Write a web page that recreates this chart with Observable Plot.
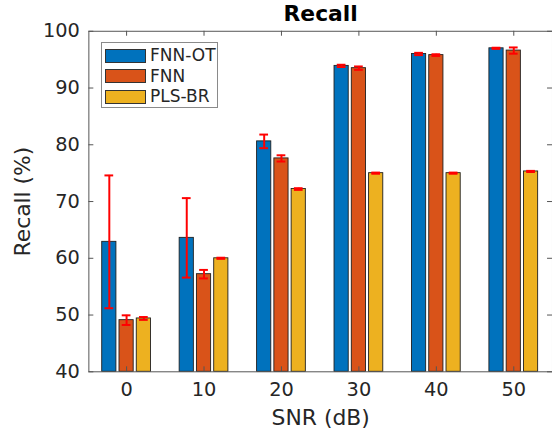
<!DOCTYPE html>
<html>
<head>
<meta charset="utf-8">
<script src="https://cdn.jsdelivr.net/npm/d3@7"></script>
<script src="https://cdn.jsdelivr.net/npm/@observablehq/plot@0.6"></script>
<style>
  html, body { margin: 0; padding: 0; overflow: hidden; background: #fff; }
  #wrap { position: relative; width: 552px; height: 437px; overflow: hidden; font-family: "DejaVu Sans", sans-serif; }
  #legend { position: absolute; left: 101px; top: 42px; width: 117px; height: 66px; border: 1px solid #8a8a8a; background: #fff; box-sizing: border-box; }
  .row { position: absolute; left: 3px; height: 15px; display: flex; align-items: center; }
  .sw { width: 41px; height: 14px; border: 1px solid #333; box-sizing: border-box; }
  .lab { margin-left: 4px; font-size: 17px; color: #262626; line-height: 15px; }
</style>
</head>
<body>
<div id="wrap"></div>
<script>
const categories = ["0", "10", "20", "30", "40", "50"];
const series = ["FNN-OT", "FNN", "PLS-BR"];
const colors = ["#0072BD", "#D95319", "#EDB120"];
const fnnOt    = [62.9, 63.6, 80.6, 93.9, 96.0, 97.0];
const fnnOtErr = [11.7, 7.0, 1.2, 0.2, 0.2, 0.1];
const fnn      = [49.1, 57.2, 77.6, 93.5, 95.8, 96.6];
const fnnErr   = [0.85, 0.75, 0.55, 0.3, 0.15, 0.55];
const plsbr    = [49.4, 60.0, 72.2, 75.0, 75.0, 75.3];
const plsbrErr = [0.25, 0.1, 0.15, 0.1, 0.1, 0.1];
const yTicks = [40, 50, 60, 70, 80, 90, 100];
const yDomain = [40, 100];

const values = [fnnOt, fnn, plsbr];
const errs = [fnnOtErr, fnnErr, plsbrErr];

const W = 556, H = 437, mL = 89, mR = 0, mT = 31, mB = 63;
const xRange = [mL - 1.5, W + 0.7];
const step = (xRange[1] - xRange[0]) / categories.length;
const barW = 14.5, barGap = 17.4, capW = 9;
const barInset = (step - barW) / 2;
const capInset = (step - capW) / 2;

const marks = [];
series.forEach((s, i) => {
  const data = categories.map((c, j) => ({snr: c, v: values[i][j], base: yDomain[0]}));
  const dx = (i - 1) * barGap;
  marks.push(Plot.barY(data, {x: "snr", y1: "base", y2: "v", fill: colors[i], stroke: "#1f1f1f", strokeWidth: 0.9, insetLeft: barInset, insetRight: barInset, dx}));
});
series.forEach((s, i) => {
  const data = categories.map((c, j) => ({snr: c, lo: values[i][j] - errs[i][j], hi: values[i][j] + errs[i][j]}));
  const dx = (i - 1) * barGap;
  marks.push(Plot.ruleX(data, {x: "snr", y1: "lo", y2: "hi", stroke: "#ff0000", strokeWidth: 2, dx}));
  marks.push(Plot.tickY(data, {x: "snr", y: "lo", stroke: "#ff0000", strokeWidth: 2, insetLeft: capInset, insetRight: capInset, dx}));
  marks.push(Plot.tickY(data, {x: "snr", y: "hi", stroke: "#ff0000", strokeWidth: 2, insetLeft: capInset, insetRight: capInset, dx}));
});

const frameW = W - mL - mR, frameH = H - mT - mB;
// inward ticks
marks.push(Plot.tickY(yTicks, {y: d => d, insetRight: frameW - 5, stroke: "#555", strokeWidth: 1}));
marks.push(Plot.tickY(yTicks, {y: d => d, insetLeft: frameW - 5, stroke: "#555", strokeWidth: 1}));
marks.push(Plot.tickX(categories, {x: d => d, insetTop: frameH - 5, stroke: "#555", strokeWidth: 1}));
marks.push(Plot.tickX(categories, {x: d => d, insetBottom: frameH - 5, stroke: "#555", strokeWidth: 1}));
marks.push(Plot.frame({stroke: "#555", strokeWidth: 1}));

marks.push(Plot.axisY(yTicks, {tickSize: 0, tickPadding: 9, fontSize: 19.5, label: null, color: "#262626"}));
marks.push(Plot.axisX({tickSize: 0, tickPadding: 11, fontSize: 19.5, label: null, color: "#262626"}));
marks.push(Plot.text(["Recall (%)"], {frameAnchor: "left", rotate: -90, dx: -66, lineAnchor: "middle", textAnchor: "middle", fontSize: 22, fill: "#262626", text: d => d}));
marks.push(Plot.text(["SNR (dB)"], {frameAnchor: "bottom", dy: 47, lineAnchor: "middle", fontSize: 22, fill: "#262626", text: d => d}));
marks.push(Plot.text(["Recall"], {frameAnchor: "top", dy: -17, lineAnchor: "middle", fontSize: 22, fontWeight: "bold", fill: "#000", text: d => d}));

const chart = Plot.plot({
  width: W, height: H,
  marginLeft: mL, marginRight: mR, marginTop: mT, marginBottom: mB,
  style: {fontFamily: "DejaVu Sans, sans-serif", color: "#262626", background: "#fff", overflow: "visible"},
  x: {type: "band", domain: categories, padding: 0, range: xRange, label: null},
  y: {domain: yDomain, ticks: yTicks, label: null},
  marks
});
const wrap = document.getElementById("wrap");
wrap.appendChild(chart);

const legend = document.createElement("div");
legend.id = "legend";
series.forEach((s, i) => {
  const row = document.createElement("div");
  row.className = "row";
  row.style.top = (5 + i * 20.5) + "px";
  const sw = document.createElement("div");
  sw.className = "sw";
  sw.style.background = colors[i];
  const lab = document.createElement("span");
  lab.className = "lab";
  lab.textContent = s;
  row.appendChild(sw); row.appendChild(lab);
  legend.appendChild(row);
});
wrap.appendChild(legend);
</script>
</body>
</html>
